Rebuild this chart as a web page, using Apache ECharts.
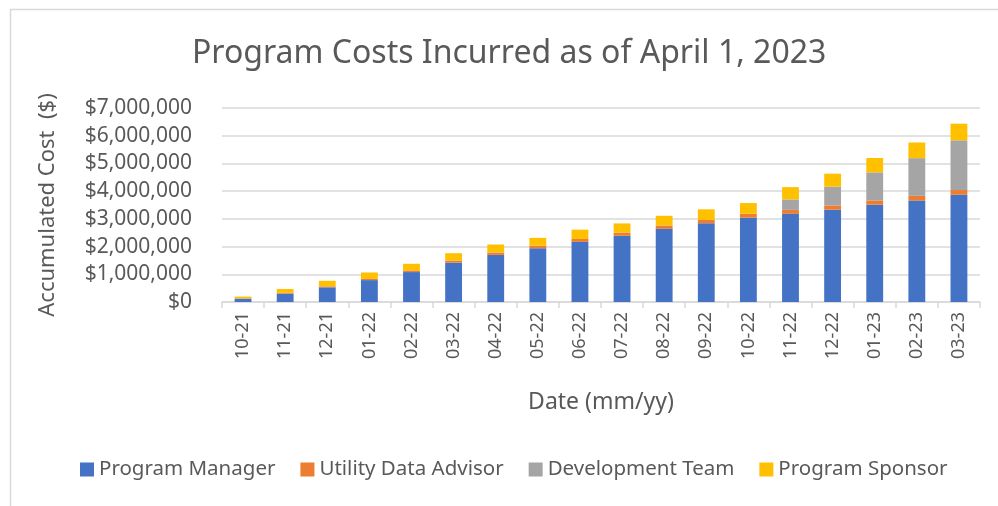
<!DOCTYPE html>
<html>
<head>
<meta charset="utf-8">
<script src="https://cdn.jsdelivr.net/npm/echarts@6/dist/echarts.min.js"></script>
<style>
  html, body { margin: 0; padding: 0; background: #fff; }
  #chart { width: 998px; height: 506px; }
</style>
</head>
<body>
<div id="chart"></div>
<script>
// months (mm-yy)
const months = ['10-21', '11-21', '12-21', '01-22', '02-22', '03-22', '04-22', '05-22', '06-22',
  '07-22', '08-22', '09-22', '10-22', '11-22', '12-22', '01-23', '02-23', '03-23'];

// accumulated cost per role ($)
const programManager = [120000, 300000, 530000, 790000, 1080000, 1420000, 1700000, 1940000, 2170000,
  2390000, 2640000, 2840000, 3040000, 3180000, 3330000, 3510000, 3660000, 3870000];
const utilityDataAdvisor = [10000, 30000, 35000, 45000, 60000, 75000, 85000, 90000, 105000,
  110000, 120000, 120000, 145000, 145000, 155000, 157000, 170000, 170000];
const developmentTeam = [0, 0, 0, 0, 0, 0, 0, 0, 0,
  0, 0, 0, 0, 375000, 675000, 1010000, 1360000, 1795000];
const programSponsor = [65000, 140000, 200000, 230000, 240000, 265000, 290000, 285000, 335000,
  335000, 350000, 385000, 385000, 445000, 470000, 520000, 565000, 600000];

const yTicks = [0, 1000000, 7000000]; // min, step, max

const txt = '#595959';
const gridCol = '#d9d9d9';
const font = 'Noto Sans';

let myChart = echarts.init(document.getElementById('chart'));

function bar(name, data, color) {
  return {
    name: name,
    type: 'bar',
    stack: 'cost',
    barWidth: '40%',
    data: data,
    itemStyle: { color: color },
    emphasis: { disabled: true }
  };
}

myChart.setOption({
  animation: false,
  textStyle: { fontFamily: font },
  title: {
    text: 'Program Costs Incurred as of April 1, 2023',
    left: 187,
    top: 33,
    textStyle: { color: txt, fontSize: 32, fontWeight: 'normal', fontFamily: font }
  },
  graphic: [{
    type: 'rect',
    shape: { x: 10.5, y: 9.5, width: 1000, height: 520 },
    style: { fill: 'none', stroke: gridCol, lineWidth: 1.5 },
    silent: true
  }],
  legend: {
    left: 75,
    top: 454,
    itemWidth: 14,
    itemHeight: 14,
    itemGap: 25,
    icon: 'rect',
    textStyle: { color: txt, fontSize: 20.5, fontFamily: font }
  },
  grid: {
    left: 222,
    right: 18,
    top: 108,
    bottom: 204,
    containLabel: false,
    outerBoundsMode: 'none'
  },
  xAxis: {
    type: 'category',
    data: months,
    name: 'Date (mm/yy)',
    nameLocation: 'middle',
    nameGap: 89,
    nameTextStyle: { color: txt, fontSize: 23 },
    axisLine: { lineStyle: { color: gridCol, width: 1.5 } },
    axisTick: { show: true, length: 6, lineStyle: { color: gridCol, width: 1.5 } },
    axisLabel: { rotate: 90, color: txt, fontSize: 18, margin: 10, interval: 0 }
  },
  yAxis: {
    type: 'value',
    min: yTicks[0],
    interval: yTicks[1],
    max: yTicks[2],
    name: 'Accumulated Cost  ($)',
    nameLocation: 'middle',
    nameGap: 163,
    nameRotate: 90,
    nameTextStyle: { color: txt, fontSize: 22 },
    axisLine: { show: false },
    axisTick: { show: false },
    splitLine: { lineStyle: { color: gridCol, width: 1.5 } },
    axisLabel: {
      color: txt,
      fontSize: 21,
      margin: 30,
      formatter: v => '$' + v.toLocaleString('en-US')
    }
  },
  series: [
    bar('Program Manager', programManager, '#4472C4'),
    bar('Utility Data Advisor', utilityDataAdvisor, '#ED7D31'),
    bar('Development Team', developmentTeam, '#A5A5A5'),
    bar('Program Sponsor', programSponsor, '#FFC000')
  ]
});
</script>
</body>
</html>
